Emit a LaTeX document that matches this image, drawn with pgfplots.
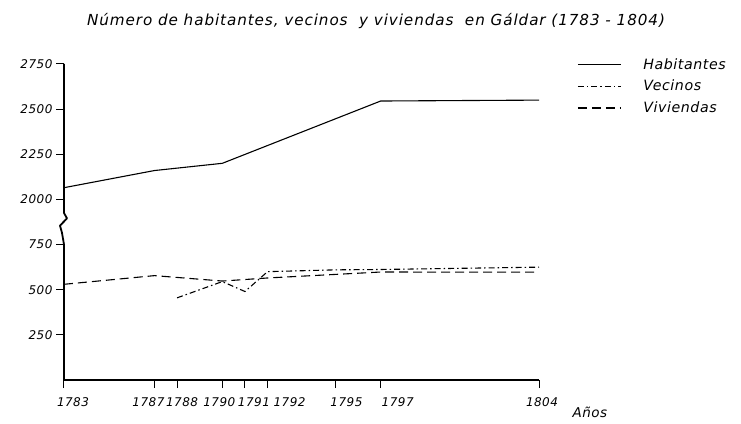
\documentclass[border=0pt]{standalone}
\usepackage{fontspec}
\setmainfont{DejaVu Sans}[LetterSpace=4]
\newfontfamily\titlefont{DejaVu Sans}[LetterSpace=6]
\usepackage{pgfplots}
\pgfplotsset{compat=1.18}
% shift a tick label sideways by #1
\newcommand{\sh}[2]{\makebox[0pt]{\hspace*{#1}#2}}

\begin{document}
\begin{tikzpicture}[font=\itshape]
\useasboundingbox (-64pt,-43pt) rectangle (677pt,380pt);
\begin{axis}[
    scale only axis,
    width=475pt, height=316pt,
    xmin=1783, xmax=1804,
    ymin=0, ymax=1750,
    axis x line*=bottom,
    axis y line*=left,
    y axis line style={draw=none},
    x axis line style={line width=1.8pt},
    tick align=outside,
    major tick length=8pt,
    tick style={line width=1pt, black},
    xtick={1783,1787,1788,1790,1791,1792,1795,1797,1804},
    xticklabels={\sh{18pt}{1783},\sh{-12pt}{1787},\sh{10pt}{1788},\sh{-6pt}{1790},
      \sh{18pt}{1791},\sh{44pt}{1792},\sh{22pt}{1795},\sh{34pt}{1797},\sh{6pt}{1804}},
    x tick label style={yshift=-6pt},
    ytick={250,500,750,1000,1250,1500,1750},
    yticklabels={250,500,750,2000,2250,2500,2750},
    /pgf/number format/assume math mode=true,
    tick label style={font=\fontsize{12}{14}\selectfont\itshape},
    clip=false,
    legend style={at={(1.08,1.025)}, anchor=north west, draw=none, fill=none,
      inner sep=0pt, row sep=5.5pt, font=\fontsize{14.2}{16}\selectfont\itshape,
      /tikz/every odd column/.append style={column sep=20pt}},
    legend cell align=left,
    legend image code/.code={\draw[#1] (0pt,0pt) -- (43pt,0pt);},
  ]
\addplot[black, line width=1.1pt, y filter/.expression={y-1000}]
  coordinates {(1783,2065) (1787,2160) (1790,2200) (1797,2545) (1804,2550)};
\addlegendentry{Habitantes}
\addplot[black, line width=1.1pt, dash pattern=on 6pt off 3pt on 1.5pt off 3pt]
  coordinates {(1788,455) (1790,545) (1791,490) (1792,600) (1795,610) (1797,612) (1804,625)};
\addlegendentry{Vecinos}
\addplot[black, line width=1.1pt, dash pattern=on 9pt off 5pt]
  coordinates {(1783,530) (1787,578) (1790,548) (1792,565) (1797,598) (1804,597)};
\addlegendentry{Viviendas}
% broken y axis
\draw[line width=1.8pt, line join=round]
  (axis cs:1783,1750) -- (axis cs:1783,925)
  -- ([xshift=3pt]axis cs:1783,895) -- ([xshift=-4pt]axis cs:1783,855)
  -- ([xshift=-2pt]axis cs:1783,815) -- (axis cs:1783,750) -- (axis cs:1783,0);
\end{axis}
\node at (312pt,359pt) {\titlefont\itshape\fontsize{15.2}{18}\selectfont Número de habitantes, vecinos\ \ y viviendas\ \ en Gáldar (1783 - 1804)};
\node[anchor=west] at (505pt,-32pt) {\fontsize{13.5}{16}\selectfont Años};
\end{tikzpicture}
\end{document}
